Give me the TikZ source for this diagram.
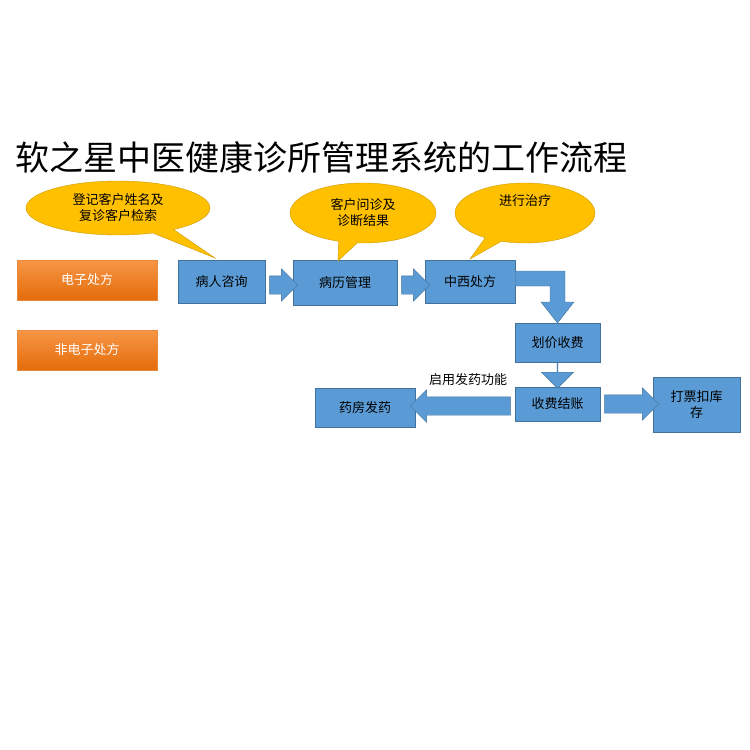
\documentclass[tikz,border=0pt]{standalone}
\usepackage{fontspec}
\newfontfamily\cjk{Noto Sans CJK SC}
\usetikzlibrary{positioning, shapes.arrows, shapes.callouts}
\definecolor{boxblue}{RGB}{91,155,213}
\definecolor{boxedge}{RGB}{65,113,156}
\definecolor{bubble}{RGB}{255,192,0}
\definecolor{orangetop}{RGB}{247,150,70}
\definecolor{orangebot}{RGB}{228,108,10}
\tikzset{
  stage/.style={draw=boxedge, fill=boxblue, font=\cjk\fontsize{13}{16}\selectfont, align=center, inner sep=0pt},
  kind/.style={draw=orangebot!80, top color=orangetop, bottom color=orangebot, text=white, font=\cjk\fontsize{13}{16}\selectfont, inner sep=0pt},
  talk/.style={ellipse callout, draw=bubble!80!black, fill=bubble, font=\cjk\fontsize{13}{16}\selectfont, align=center, inner sep=0pt},
  flow/.style={single arrow, draw=boxedge, fill=boxblue, text height=18pt, text depth=0pt, text width=0pt, minimum width=32pt, single arrow head extend=7pt, single arrow tip angle=90, inner sep=0pt}
}
\begin{document}
\begin{tikzpicture}[x=1pt, y=-1pt]
  \useasboundingbox (0,0) rectangle (750,750);

  % title
  \node[anchor=west, font=\cjk\fontsize{34}{40}\selectfont] (title) at (12,157) {软之星中医健康诊所管理系统的工作流程};

  % left kinds
  \node[kind, minimum width=140pt, minimum height=40pt] (ele) at (87,280) {电子处方};
  \node[kind, minimum width=140pt, minimum height=40pt] (nonele) at (87,350) {非电子处方};

  % main steps
  \node[stage, minimum width=87pt, minimum height=43pt] (ask) at (221.5,281.5) {病人咨询};
  \node[stage, minimum width=104pt, minimum height=45pt] (record) at (345,282.5) {病历管理};
  \node[stage, minimum width=90pt, minimum height=43pt] (presc) at (470,281.5) {中西处方};
  \node[stage, minimum width=85pt, minimum height=39pt] (price) at (557.5,342.5) {划价收费};
  \node[stage, minimum width=85pt, minimum height=34pt] (pay) at (557.5,404) {收费结账};
  \node[stage, minimum width=87pt, minimum height=55pt] (ticket) at (696.5,404.5) {打票扣库\\存};
  \node[stage, minimum width=100pt, minimum height=39pt] (drug) at (365,407.5) {药房发药};

  % block arrows
  \node[flow, minimum height=28pt] (a1) at (279,285) {};
  \node[flow, minimum height=28pt] (a2) at (411,285) {};
  \node[flow, minimum height=54pt] (a4) at (627,404) {};
  \node[flow, minimum height=100pt, shape border rotate=180] (a5) at (465,406) {};
  \node[flow, minimum height=26pt, shape border rotate=270] (a3) at (557.5,375) {};
  \draw[boxedge, fill=boxblue] (presc.east |- 0,271) -- (565,271) -- (565,302) -- (574,302)
    -- (557.5,323) -- (541,302) -- (550,302) -- (550,286) -- (presc.east |- 0,286) -- cycle;

  \node[font=\cjk\fontsize{13}{16}\selectfont] (switch) at (468,380) {启用发药功能};

  % bubbles
  \node[talk, minimum width=184pt, minimum height=54pt, callout absolute pointer={(215,258)}] (b1) at (118,208) {登记客户姓名及\\复诊客户检索};
  \node[talk, minimum width=146pt, minimum height=60pt, callout absolute pointer={(338,261)}] (b2) at (363,213) {客户问诊及\\诊断结果};
  \node[talk, minimum width=140pt, minimum height=60pt, callout absolute pointer={(470,259)}] (b3) at (525,213) {进行治疗\\[10pt]};
\end{tikzpicture}
\end{document}
